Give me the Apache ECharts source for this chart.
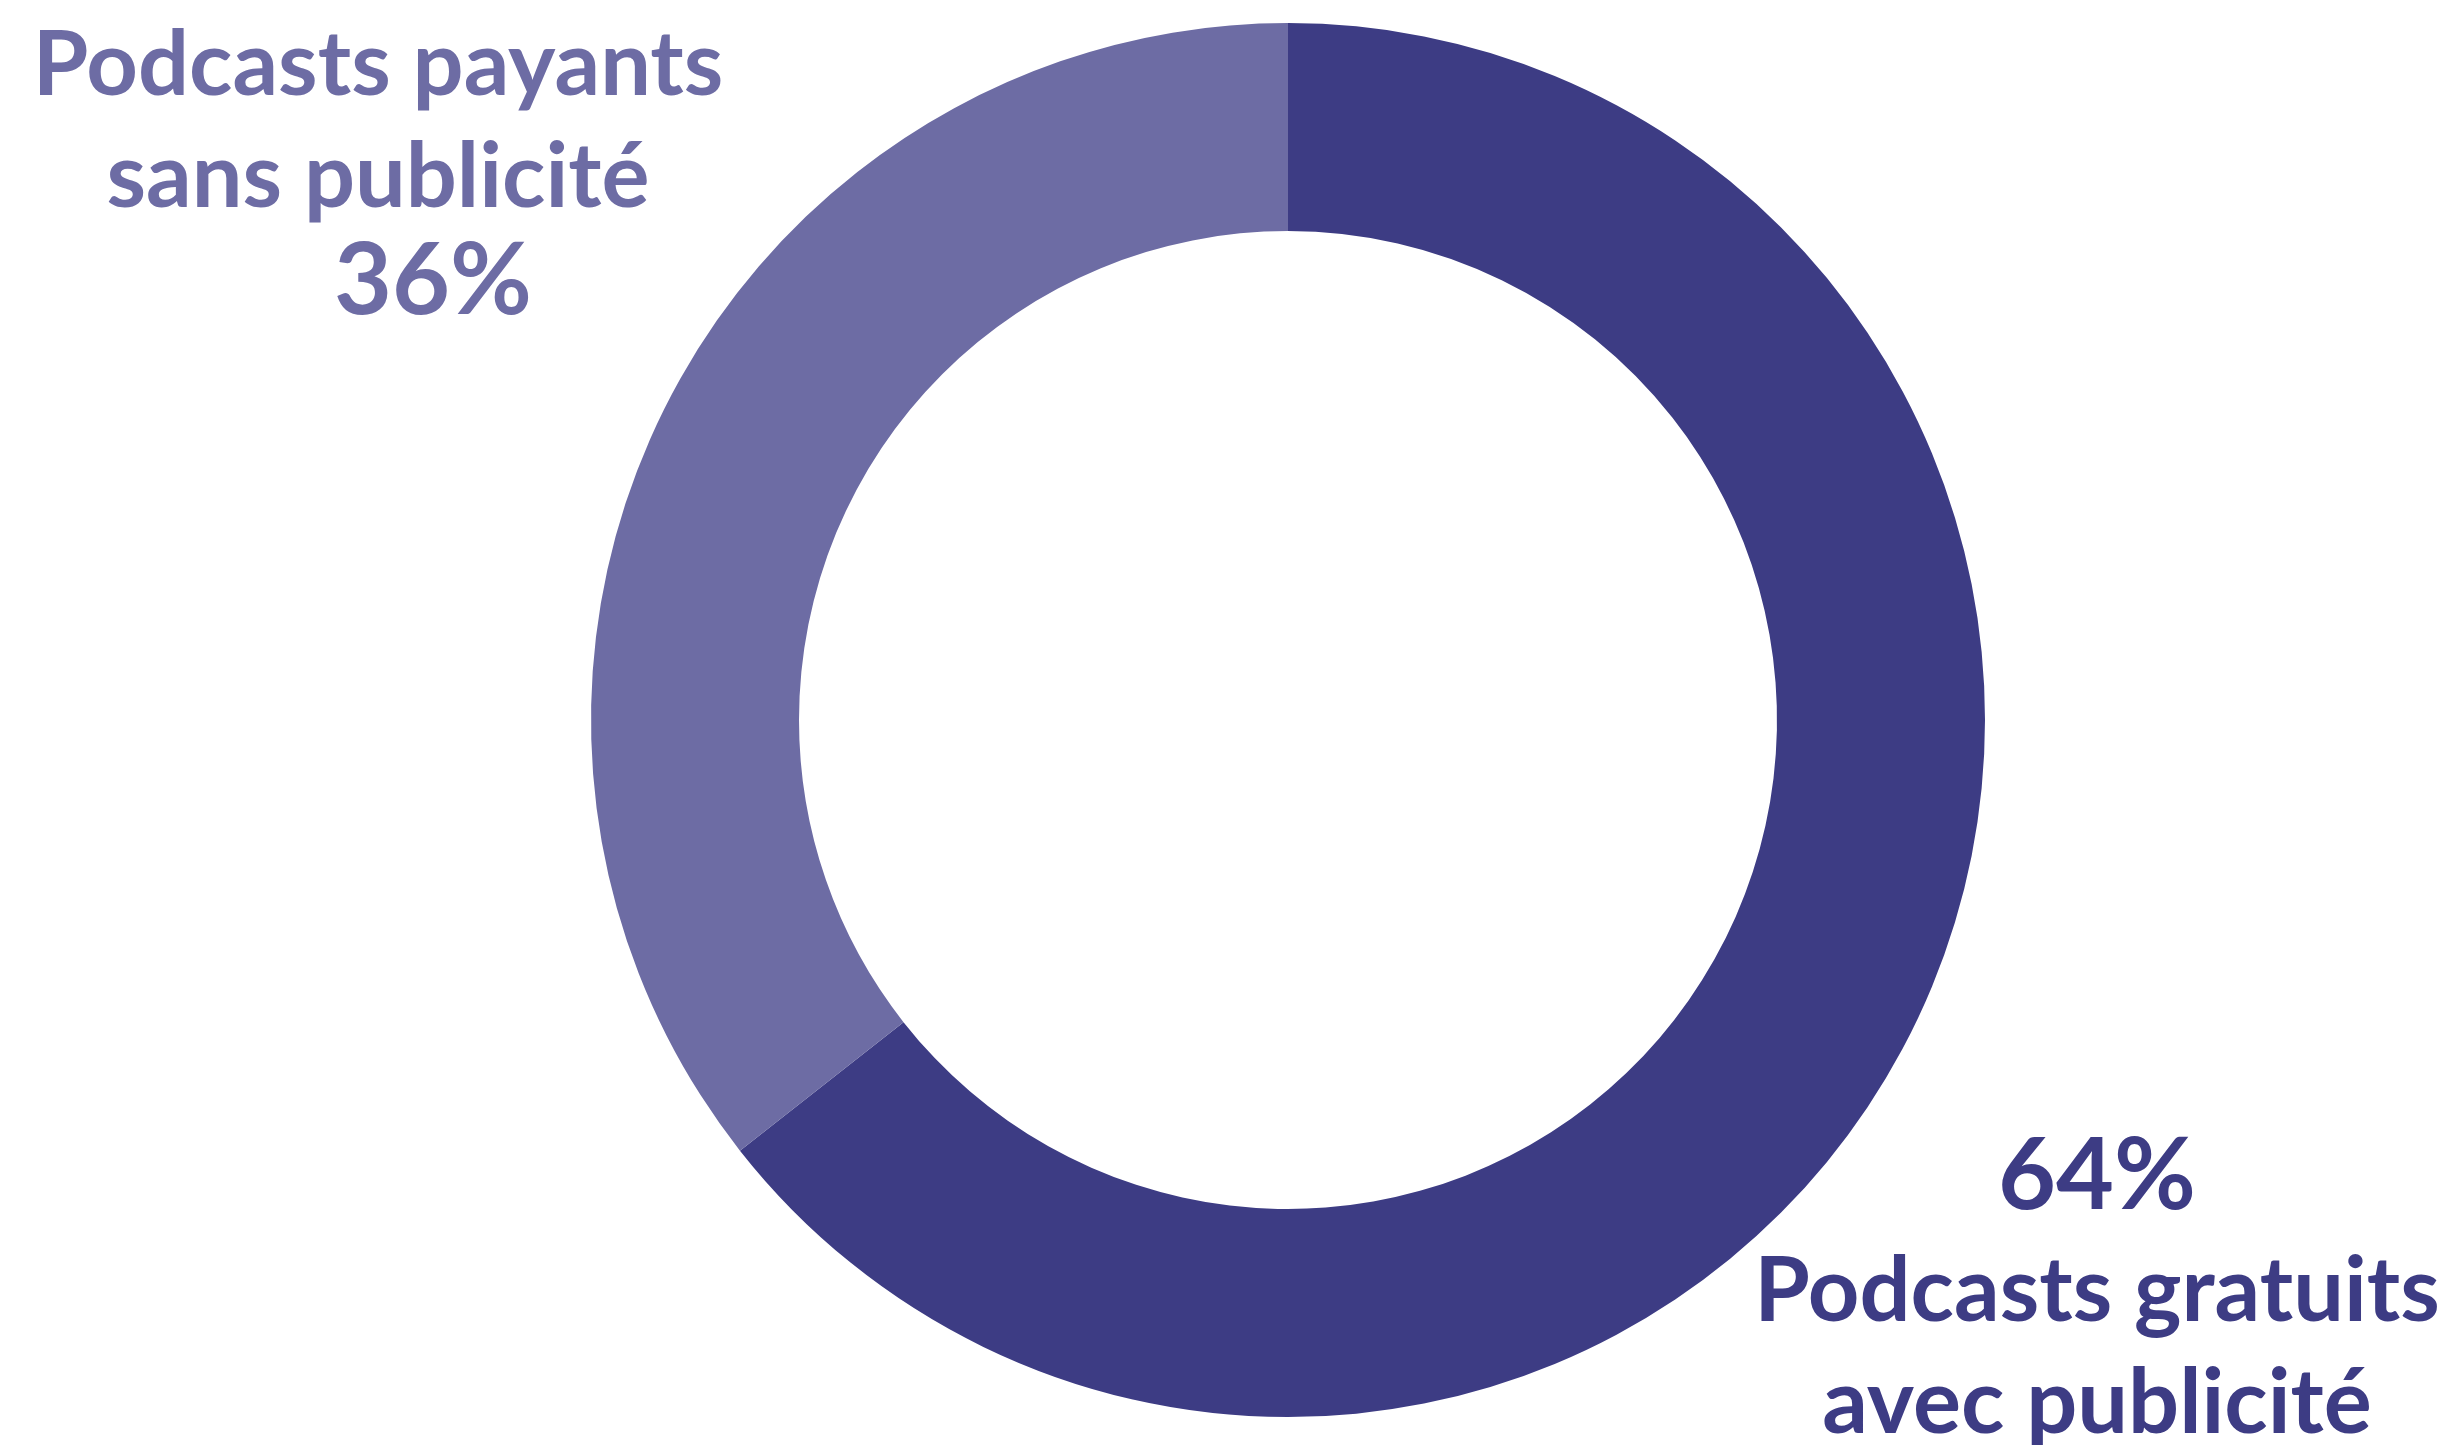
<!DOCTYPE html>
<html>
<head>
<meta charset="utf-8">
<script src="https://cdn.jsdelivr.net/npm/echarts@6/dist/echarts.min.js"></script>
<style>
html,body{margin:0;padding:0;background:#fff;}
#chart{width:2449px;height:1445px;}
</style>
</head>
<body>
<div id="chart"></div>
<script>
const names = ['Podcasts gratuits\navec publicité', 'Podcasts payants\nsans publicité'];
const values = [64.4, 35.6];
const colors = ['#3D3C84', '#6D6CA4'];

const chart = echarts.init(document.getElementById('chart'), null, {renderer: 'canvas'});
const FONT = 'Lato';

const data = names.map((n, i) => ({name: n, value: values[i], itemStyle: {color: colors[i]}}));

function fmt(p) {
  const lines = p.name.split('\n');
  const pct = Math.round(p.value) + '%';
  if (p.dataIndex === 0) {
    return '{pr|' + pct + '}\n' + lines.map(l => '{nr|' + l + '}').join('\n');
  }
  return lines.map(l => '{nl|' + l + '}').join('\n') + '\n{pl|' + pct + '}';
}

chart.setOption({
  animation: false,
  series: [{
    type: 'pie',
    center: [1288, 720],
    radius: [489, 697],
    startAngle: 90,
    clockwise: true,
    data: data,
    labelLine: {show: false},
    label: {
      show: true,
      position: 'outside',
      formatter: fmt,
      align: 'center',
      overflow: 'none',
      width: 900,
      rich: {
        nl: {fontFamily: FONT, fontWeight: 'bold', fontSize: 90, lineHeight: 112, color: '#6D6CA4', align: 'center'},
        pl: {fontFamily: FONT, fontWeight: 'bold', fontSize: 100, lineHeight: 96, color: '#6D6CA4', align: 'center', padding: [0, 0, 0, 110]},
        nr: {fontFamily: FONT, fontWeight: 'bold', fontSize: 90, lineHeight: 112, color: '#3D3C84', align: 'center'},
        pr: {fontFamily: FONT, fontWeight: 'bold', fontSize: 100, lineHeight: 118, color: '#3D3C84', align: 'center'}
      }
    },
    labelLayout: function (params) {
      if (params.dataIndex === 0) {
        return {x: 2097, y: 1118, align: 'center', verticalAlign: 'top', hideOverlap: false};
      }
      return {x: 378, y: 10, align: 'center', verticalAlign: 'top', hideOverlap: false};
    }
  }]
});
</script>
</body>
</html>
